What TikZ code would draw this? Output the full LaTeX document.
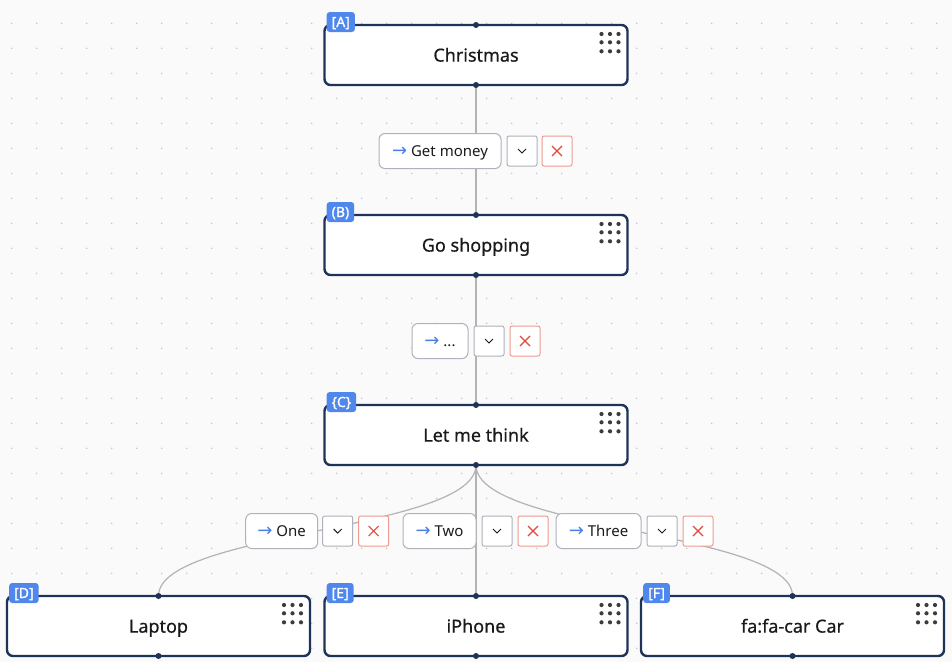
\documentclass[tikz,border=0pt]{standalone}
\usepackage{fontspec}
\setmainfont{Noto Sans}
\newfontfamily\arrowfont{DejaVu Sans}
\newfontfamily\tagfont{Noto Sans}[FakeBold=1.2]
\newfontfamily\statefont{Noto Sans}[FakeBold=0.5]
\usepackage{xcolor}
\usepackage{tikz}
\usetikzlibrary{calc,positioning}
\definecolor{bg}{HTML}{FAFAFA}
\definecolor{griddot}{HTML}{C2C2C2}
\definecolor{navy}{HTML}{1F3358}
\definecolor{tagblue}{HTML}{5087EC}
\definecolor{ink}{HTML}{1A1A1A}
\definecolor{wire}{HTML}{B3B3B3}
\definecolor{frame}{HTML}{AEB2BA}
\definecolor{redline}{HTML}{EE9A93}
\definecolor{redmark}{HTML}{E0483C}
\definecolor{arrowblue}{HTML}{4A7FE8}
\tikzset{
  state/.style={draw=navy, line width=2.4pt, fill=white, rounded corners=6pt,
    minimum width=303pt, minimum height=60pt, outer sep=0pt,
    text=ink, font=\statefont\fontsize{18}{22}\selectfont, text height=13.2pt, text depth=0pt},
  tag/.style={fill=tagblue, rounded corners=3pt, text=white, anchor=west,
    font=\tagfont\fontsize{14}{16}\selectfont, text height=10pt, text depth=0pt,
    minimum height=20pt, inner xsep=5pt, inner ysep=0pt},
  wirepath/.style={draw=wire, line width=1.2pt},
  elabel/.style={draw=frame, line width=1pt, fill=white, rounded corners=6pt,
    minimum height=35pt, text=ink, font=\fontsize{15}{18}\selectfont,
    text height=10.8pt, text depth=0pt},
  chevbox/.style={draw=frame, line width=1pt, fill=white, rounded corners=2pt,
    minimum size=30pt, inner sep=0pt},
  xbox/.style={draw=redline, line width=1pt, fill=white, rounded corners=2pt,
    minimum size=30pt, inner sep=0pt},
  port/.style={fill=navy},
  grip/.style={fill=ink!85}
}
\newcommand{\edgearrow}{{\arrowfont\fontsize{18}{18}\selectfont\color{arrowblue}→}\ }

\begin{document}
\begin{tikzpicture}[x=1pt,y=-1pt]
  \useasboundingbox (0,0) rectangle (952,662);
  \fill[bg] (0,0) rectangle (952,662);
  % dotted canvas
  \foreach \gx in {0,...,37}
    \foreach \gy in {0,...,25}
      \fill[griddot] (11.7+25*\gx,23.3+25*\gy) circle (0.8);

  % states
  \node[state] (christmas) at (476,55) {Christmas};
  \node[state] (shopping) at (476,245) {Go shopping};
  \node[state] (think) at (476,435) {Let me think};
  \node[state] (laptop) at (158.5,626) {Laptop};
  \node[state] (iphone) at (476,626) {iPhone};
  \node[state] (car) at (792.5,626) {fa:fa-car Car};

  % transitions
  \draw[wirepath] (christmas.south) -- (shopping.north);
  \draw[wirepath] (shopping.south) -- (think.north);
  \draw[wirepath] (think.south) -- (iphone.north);
  \draw[wirepath] (think.south) .. controls +(0,66) and +(0,-65) .. (laptop.north);
  \draw[wirepath] (think.south) .. controls +(0,66) and +(0,-65) .. (car.north);

  \node[tag] (tagA) at ($(christmas.north west)+(2,-3)$) {[A]};
  \node[tag] (tagB) at ($(shopping.north west)+(2,-3)$) {(B)};
  \node[tag] (tagC) at ($(think.north west)+(2,-3)$) {\{C\}};
  \node[tag] (tagD) at ($(laptop.north west)+(2,-3)$) {[D]};
  \node[tag] (tagE) at ($(iphone.north west)+(2,-3)$) {[E]};
  \node[tag] (tagF) at ($(car.north west)+(2,-3)$) {[F]};

  \foreach \b in {christmas,shopping,think,laptop,iphone,car}{
    \fill[port] (\b.north) circle (3);
    \fill[port] (\b.south) circle (3);
    \foreach \dx in {-26,-17.5,-9}
      \foreach \dy in {9,17.3,26.3}
        \fill[grip] ($(\b.north east)+(\dx,\dy)$) circle (2.1);
  }

  % edge labels with their buttons
  \node[elabel, minimum width=122pt] (getmoney) at (440,151) {\edgearrow Get money};
  \node[chevbox, right=5pt of getmoney] (getmoney-chev) {};
  \node[xbox, right=4pt of getmoney-chev] (getmoney-x) {};

  \node[elabel, minimum width=56pt] (dots) at (440,341) {\edgearrow ...};
  \node[chevbox, right=5pt of dots] (dots-chev) {};
  \node[xbox, right=5pt of dots-chev] (dots-x) {};

  \node[elabel, minimum width=72pt] (one) at (281.7,531) {\edgearrow One};
  \node[chevbox, right=4pt of one] (one-chev) {};
  \node[xbox, right=5pt of one-chev] (one-x) {};

  \node[elabel, minimum width=73pt] (two) at (439.5,531) {\edgearrow Two};
  \node[chevbox, right=5pt of two] (two-chev) {};
  \node[xbox, right=5pt of two-chev] (two-x) {};

  \node[elabel, minimum width=85pt] (three) at (598.5,531) {\edgearrow Three};
  \node[chevbox, right=5pt of three] (three-chev) {};
  \node[xbox, right=5pt of three-chev] (three-x) {};

  \foreach \n in {getmoney,dots,one,two,three}{
    \draw[ink, line width=1pt] ($(\n-chev.center)+(-4,-2)$) -- ++(4,4) -- ++(4,-4);
    \draw[redmark, line width=1.1pt] ($(\n-x.center)+(-5,-5)$) -- ++(10,10)
      ($(\n-x.center)+(-5,5)$) -- ++(10,-10);
  }
\end{tikzpicture}
\end{document}
